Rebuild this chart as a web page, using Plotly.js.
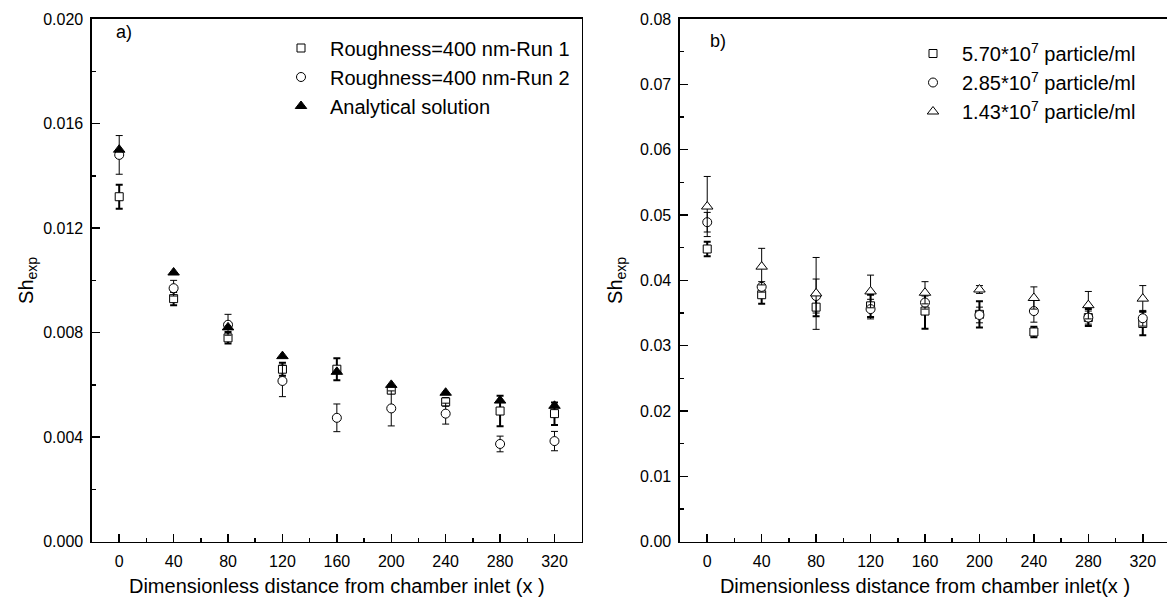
<!DOCTYPE html>
<html>
<head>
<meta charset="utf-8">
<script src="https://cdn.plot.ly/plotly-3.0.1.min.js"></script>
<style>
html,body{margin:0;padding:0;overflow:hidden;background:#fff;}
#chart{width:1171px;height:601px;}
</style>
</head>
<body>
<div id="chart"></div>
<script>
// ---- data ----
const distance = [0, 40, 80, 120, 160, 200, 240, 280, 320];

// panel a)
const run1 = [0.0132, 0.0093, 0.0078, 0.0066, 0.0066, 0.0058, 0.00535, 0.0050, 0.0049];
const run1Err = [0.00046, 0.00025, 0.00022, 0.00025, 0.00042, 0.00012, 0.00015, 0.00058, 0.00043];
const run2 = [0.0148, 0.0097, 0.0083, 0.00615, 0.00474, 0.0051, 0.0049, 0.00374, 0.00385];
const run2Err = [0.00074, 0.0003, 0.0004, 0.0006, 0.00053, 0.00067, 0.0004, 0.0003, 0.00037];
const analytical = [0.0150, 0.0103, 0.0082, 0.0071, 0.0065, 0.0060, 0.0057, 0.0054, 0.0052];

// panel b)
const conc1 = [0.0448, 0.0378, 0.0359, 0.0361, 0.0353, 0.0348, 0.0321, 0.0343, 0.0334];
const conc1Err = [0.0011, 0.0014, 0.0014, 0.0017, 0.0027, 0.0020, 0.0008, 0.0013, 0.0018];
const conc2 = [0.0489, 0.0390, 0.0376, 0.0356, 0.0366, 0.0347, 0.0353, 0.0343, 0.0342];
const conc2Err = [0.0015, 0.0008, 0.0026, 0.0015, 0.0010, 0.0012, 0.0017, 0.0010, 0.0012];
const conc3 = [0.0513, 0.0421, 0.0380, 0.0383, 0.0381, 0.0386, 0.0373, 0.0362, 0.0372];
const conc3Err = [0.0046, 0.0028, 0.0055, 0.0025, 0.0017, 0.0006, 0.0017, 0.0021, 0.0020];

const namesA = ["Roughness=400 nm-Run 1", "Roughness=400 nm-Run 2", "Analytical solution"];
const namesB = ["5.70*10<sup>7</sup> particle/ml", "2.85*10<sup>7</sup> particle/ml", "1.43*10<sup>7</sup> particle/ml"];
const xTitleA = "Dimensionless distance from chamber inlet (x )";
const xTitleB = "Dimensionless distance from chamber inlet(x )";
const yTitle = "Sh<sub>exp</sub>";

// ---- helpers ----
const W = 1171, H = 601;
const px = v => v / W;
const py = v => 1 - v / H;

function errs(arr, thick) {
  return {type: 'data', array: arr, visible: true, color: '#000',
          thickness: thick ? 2 : 1, width: 3.5};
}
function mk(symbol, size, fill) {
  return {symbol: symbol, size: size, color: fill, line: {color: '#000', width: 1}};
}

const traces = [
  {x: distance, y: run1, name: namesA[0], type: 'scatter', mode: 'markers',
   xaxis: 'x', yaxis: 'y', legend: 'legend', legendgroup: 'a1',
   marker: mk('square', 8, '#fff'), error_y: errs(run1Err, true)},
  {x: distance, y: run2, name: namesA[1], type: 'scatter', mode: 'markers',
   xaxis: 'x', yaxis: 'y', legend: 'legend', legendgroup: 'a2',
   marker: mk('circle', 9, '#fff'), error_y: errs(run2Err, false)},
  {x: distance, y: analytical, name: namesA[2], type: 'scatter', mode: 'markers',
   xaxis: 'x', yaxis: 'y', legend: 'legend', legendgroup: 'a3',
   marker: mk('triangle-up', 10, '#000')},
  {x: distance, y: conc1, name: namesB[0], type: 'scatter', mode: 'markers',
   xaxis: 'x2', yaxis: 'y2', legend: 'legend2', legendgroup: 'b1',
   marker: mk('square', 8, '#fff'), error_y: errs(conc1Err, true)},
  {x: distance, y: conc2, name: namesB[1], type: 'scatter', mode: 'markers',
   xaxis: 'x2', yaxis: 'y2', legend: 'legend2', legendgroup: 'b2',
   marker: mk('circle', 9, '#fff'), error_y: errs(conc2Err, false)},
  {x: distance, y: conc3, name: namesB[2], type: 'scatter', mode: 'markers',
   xaxis: 'x2', yaxis: 'y2', legend: 'legend2', legendgroup: 'b3',
   marker: mk('triangle-up', 10, '#fff'), error_y: errs(conc3Err, false)}
];

const FONT = 'Liberation Sans, Arial, sans-serif';

function xax(domain, anchor, title) {
  return {
    domain: domain, anchor: anchor, range: [-20, 340], tick0: 0, dtick: 40,
    ticks: 'inside', ticklen: 8, tickwidth: 1.5, tickcolor: '#000',
    showline: true, linewidth: 1.6, linecolor: '#000', mirror: true,
    showgrid: false, zeroline: false,
    minor: {ticks: 'inside', ticklen: 4, tickwidth: 1.5, tickcolor: '#000', dtick: 20, tick0: 0, showgrid: false},
    tickfont: {size: 16, family: FONT, color: '#000'},
    ticklabelstandoff: 4,
    title: {text: title, font: {size: 20, family: FONT, color: '#000'}, standoff: 10},
    fixedrange: true
  };
}
function yax(domain, anchor, range, dtick, minor, fmt, standoff) {
  return {
    domain: domain, anchor: anchor, range: range, tick0: 0, dtick: dtick,
    tickformat: fmt,
    ticks: 'inside', ticklen: 8, tickwidth: 1.5, tickcolor: '#000',
    showline: true, linewidth: 1.6, linecolor: '#000', mirror: true,
    showgrid: false, zeroline: false,
    minor: {ticks: 'inside', ticklen: 4, tickwidth: 1.5, tickcolor: '#000', dtick: minor, tick0: 0, showgrid: false},
    tickfont: {size: 16, family: FONT, color: '#000'},
    ticklabelstandoff: 4,
    title: {text: yTitle, font: {size: 20, family: FONT, color: '#000'}, standoff: standoff},
    fixedrange: true
  };
}

const yDom = [(H - 541.7) / H, (H - 19) / H];

const layout = {
  width: W, height: H,
  margin: {l: 0, r: 0, t: 0, b: 0},
  paper_bgcolor: '#fff', plot_bgcolor: '#fff',
  font: {family: FONT, color: '#000'},
  showlegend: true,
  xaxis: xax([px(92), px(581.7)], 'y', xTitleA),
  yaxis: yax(yDom, 'x', [0, 0.02], 0.004, 0.002, '.3f', 4),
  xaxis2: xax([px(680), px(1170)], 'y2', xTitleB),
  yaxis2: yax(yDom, 'x2', [0, 0.08], 0.01, 0.005, '.2f', 12),
  legend: {x: px(272), y: py(28.5), xanchor: 'left', yanchor: 'top',
           bgcolor: 'rgba(0,0,0,0)', borderwidth: 0, itemwidth: 48,
           font: {size: 20, family: FONT, color: '#000'},
           traceorder: 'grouped', tracegroupgap: 0},
  legend2: {x: px(904), y: py(34), xanchor: 'left', yanchor: 'top',
           bgcolor: 'rgba(0,0,0,0)', borderwidth: 0, itemwidth: 48,
           font: {size: 20, family: FONT, color: '#000'},
           traceorder: 'grouped', tracegroupgap: 0},
  annotations: [
    {text: 'a)', x: px(124), y: py(32), xref: 'paper', yref: 'paper',
     xanchor: 'center', yanchor: 'middle',
     showarrow: false, font: {size: 18, family: FONT, color: '#000'}},
    {text: 'b)', x: px(718), y: py(41), xref: 'paper', yref: 'paper',
     xanchor: 'center', yanchor: 'middle',
     showarrow: false, font: {size: 18, family: FONT, color: '#000'}}
  ]
};

Plotly.newPlot('chart', traces, layout, {displayModeBar: false, staticPlot: true});
</script>
</body>
</html>
